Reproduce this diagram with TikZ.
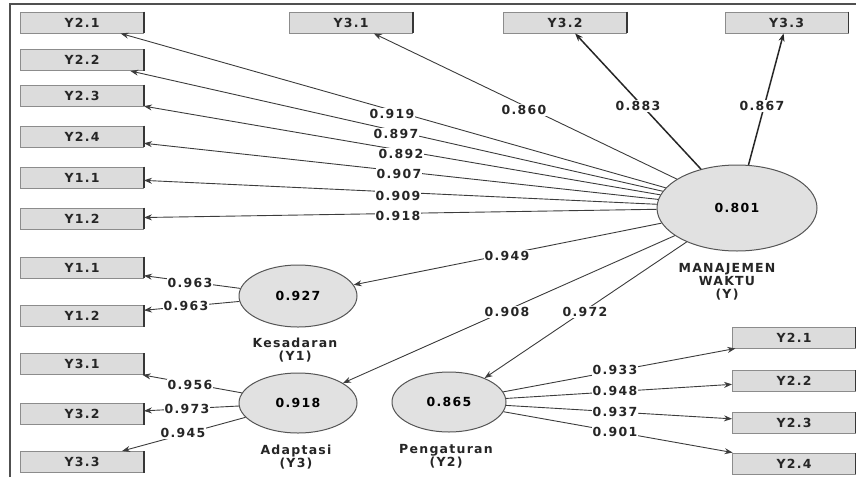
\documentclass[tikz,border=0pt]{standalone}
\usepackage{fontspec}
\newfontfamily\plsfont{DejaVu Sans}[LetterSpace=10]
\usetikzlibrary{arrows.meta,shapes.geometric}
\definecolor{boxfill}{RGB}{220,220,220}
\definecolor{boxedge}{RGB}{140,140,140}
\definecolor{boxdark}{RGB}{55,55,55}
\definecolor{lvfill}{RGB}{225,225,225}
\definecolor{lvedge}{RGB}{85,85,85}
\definecolor{pathcol}{RGB}{60,60,60}
\definecolor{framecol}{RGB}{80,80,80}

\begin{document}
\begin{tikzpicture}[x=1pt,y=-1pt,
  every node/.style={font=\plsfont\bfseries\fontsize{12.5}{13}\selectfont},
  ind/.style={rectangle, fill=boxfill, draw=boxedge, line width=0.9pt,
    minimum width=123pt, minimum height=21pt, inner sep=0pt, text=black!85,
    append after command={(\tikzlastnode.north east) edge[boxdark, line width=1.4pt] (\tikzlastnode.south east)}},
  lv/.style={ellipse, fill=lvfill, draw=lvedge, line width=1pt, inner sep=0pt},
  load/.style={draw=pathcol, line width=0.9pt, -{Stealth[length=8pt,width=6pt]}},
  heavy/.style={load, draw=black!85, line width=1.5pt},
  coef/.style={fill=white, inner sep=1pt, text=black!85},
  lvname/.style={align=center, text=black!85},
]
\useasboundingbox (0,0) rectangle (856,477);

% frame of the model window
\draw[framecol, line width=1.5pt] (10,477) -- (10,4) -- (856,4);

% latent variables
\node[lv, minimum width=160pt, minimum height=86pt] (m) at (737,208) {0.801};
\node[lv, minimum width=118pt, minimum height=62pt] (k) at (298,296) {0.927};
\node[lv, minimum width=118pt, minimum height=60pt] (a) at (298,403) {0.918};
\node[lv, minimum width=114pt, minimum height=60pt] (p) at (449,402) {0.865};

\node[lvname] (mname) at (727,282) {MANAJEMEN\\WAKTU\\(Y)};
\node[lvname] (kname) at (295,350) {Kesadaran\\(Y1)};
\node[lvname] (aname) at (296,457) {Adaptasi\\(Y3)};
\node[lvname] (pname) at (446,456) {Pengaturan\\(Y2)};

% indicators of MANAJEMEN WAKTU
\node[ind] (m21) at (82,22.5) {Y2.1};
\node[ind] (m22) at (82,60) {Y2.2};
\node[ind] (m23) at (82,95.5) {Y2.3};
\node[ind] (m24) at (82,136.5) {Y2.4};
\node[ind] (m11) at (82,177.5) {Y1.1};
\node[ind] (m12) at (82,218.5) {Y1.2};
\node[ind] (m31) at (351,22.5) {Y3.1};
\node[ind] (m32) at (565,22.5) {Y3.2};
\node[ind] (m33) at (786.5,22.5) {Y3.3};

% indicators of Kesadaran and Adaptasi
\node[ind] (k11) at (82,267.5) {Y1.1};
\node[ind] (k12) at (82,316) {Y1.2};
\node[ind] (a31) at (82,364) {Y3.1};
\node[ind] (a32) at (82,414) {Y3.2};
\node[ind] (a33) at (82,462) {Y3.3};

% indicators of Pengaturan
\node[ind] (p21) at (794,337.5) {Y2.1};
\node[ind] (p22) at (794,380.5) {Y2.2};
\node[ind] (p23) at (794,422.5) {Y2.3};
\node[ind] (p24) at (794,463.5) {Y2.4};

% outer loadings
\draw[load] (m) -- (m21);
\draw[load] (m) -- (m22);
\draw[load] (m) -- (m23);
\draw[load] (m) -- (m24);
\draw[load] (m) -- (m11);
\draw[load] (m) -- (m12);
\draw[load] (m) -- (m31);
\draw[heavy] (m) -- (m32);
\draw[heavy] (m) -- (m33);

\draw[load] (k) -- (k11);
\draw[load] (k) -- (k12);
\draw[load] (a) -- (a31);
\draw[load] (a) -- (a32);
\draw[load] (a) -- (a33);

\draw[load] (p) -- (p21);
\draw[load] (p) -- (p22);
\draw[load] (p) -- (p23);
\draw[load] (p) -- (p24);

% structural paths
\draw[load] (m) -- (k);
\draw[load] (m) -- (a);
\draw[load] (m) -- (p);

% coefficients
\node[coef] (c21) at (392,114) {0.919};
\node[coef] (c22) at (396,134) {0.897};
\node[coef] (c23) at (401,154) {0.892};
\node[coef] (c24) at (399,174) {0.907};
\node[coef] (c11) at (398,196) {0.909};
\node[coef] (c12) at (398,216) {0.918};
\node[coef] (c31) at (524,110) {0.860};
\node[coef] (c32) at (638,106) {0.883};
\node[coef] (c33) at (762,106) {0.867};

\node[coef] (ck1) at (190,283) {0.963};
\node[coef] (ck2) at (186,306) {0.963};
\node[coef] (ca1) at (190,385) {0.956};
\node[coef] (ca2) at (187,409) {0.973};
\node[coef] (ca3) at (183,433) {0.945};

\node[coef] (cp1) at (615,370) {0.933};
\node[coef] (cp2) at (615,391) {0.948};
\node[coef] (cp3) at (615,412) {0.937};
\node[coef] (cp4) at (615,432) {0.901};

\node[coef] (cmk) at (507,256) {0.949};
\node[coef] (cma) at (507,312) {0.908};
\node[coef] (cmp) at (585,312) {0.972};
\end{tikzpicture}
\end{document}
